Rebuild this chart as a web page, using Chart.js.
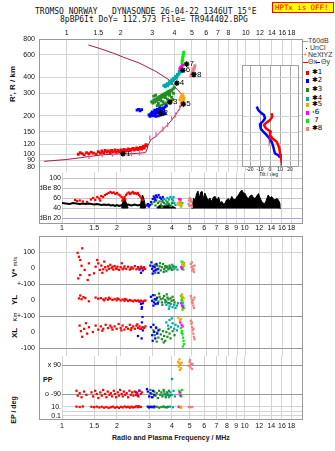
<!DOCTYPE html>
<html>
<head>
<meta charset="utf-8">
<title>Dynasonde ionogram</title>
<script src="https://cdn.jsdelivr.net/npm/chart.js@4.4.1/dist/chart.umd.min.js"></script>
<style>
  html, body { margin: 0; padding: 0; background: #fff; }
  body { position: relative; width: 335px; height: 451px; overflow: hidden;
         font-family: 'Liberation Sans', Arial, sans-serif; color: #111; }
  canvas, .t, .box, .mk { position: absolute; }
  .t { white-space: pre; line-height: 1; }
  .mono { font-family: 'DejaVu Sans Mono', monospace; font-size: 8px; }
  .rot { position: absolute; white-space: pre; line-height: 1; transform: translate(-50%, -50%) rotate(-90deg); font-weight: bold; }
  .box { border: 1px solid #999; box-sizing: border-box; pointer-events: none; }
  .lg { font-size: 7px; color: #333; }
  .star { font-family: 'DejaVu Sans', sans-serif; }
</style>
</head>
<body>
<div class="t mono" style="left:35px;top:8px">TROMSO NORWAY   DYNASONDE 26-04-22 1346UT 15°E</div>
<div class="t mono" style="left:60px;top:16px">8pBP6It DoY= 112.573 File= TR944402.BPG</div>
<div class="t mono" style="left:272px;top:2px;width:62px;height:11px;background:#ffff00;border:1px solid #f00;color:#f00;box-sizing:border-box;padding-left:2px;font-size:7.4px;line-height:9px;overflow:hidden">HPTx is OFF!</div>

<div class="rot" style="left:13px;top:84px;font-size:8px">R', R / km</div>
<div class="rot" style="left:15px;top:267px;font-size:8px">V* <span style="font-size:6px;font-weight:normal">m/s</span></div>
<div class="rot" style="left:15px;top:300px;font-size:8px">YL</div>
<div class="rot" style="left:15px;top:317px;font-size:6px;font-weight:normal">Km</div>
<div class="rot" style="left:15px;top:333px;font-size:8px">XL</div>
<div class="rot" style="left:13px;top:410px;font-size:7px">EP / deg</div>
<div class="t" style="left:43px;top:376px;font-size:7px;font-weight:bold">PP</div>
<div class="t" style="left:112px;top:434px;font-size:7px;font-weight:bold;color:#222">Radio and Plasma Frequency / MHz</div>
<div class="t" style="left:259px;top:172px;font-size:5px">Tilt / deg</div>

<div class="mk" style="left:303px;top:41px;width:5px;height:1px;background:#999"></div>
<div class="t lg" style="left:308px;top:37px">T60dB</div>
<div class="mk" style="left:306px;top:48px;width:1px;height:1px;background:#000"></div>
<div class="t lg" style="left:310px;top:44px">UnCl</div>
<div class="t lg" style="left:303px;top:51px;color:#e0609a">+</div>
<div class="t lg" style="left:308px;top:51px">NeXtYZ</div>
<div class="mk" style="left:303px;top:62px;width:5px;height:1px;background:#f00"></div>
<div class="t lg" style="left:308px;top:58px">Θx</div>
<div class="mk" style="left:316px;top:62px;width:4px;height:1px;background:#00f"></div>
<div class="t lg" style="left:321px;top:58px">Θy</div>
<div id="echoLegend"></div>

<canvas id="cTop"></canvas>
<canvas id="cTilt"></canvas>
<canvas id="cAmp"></canvas>
<canvas id="cVstar"></canvas>
<canvas id="cYL"></canvas>
<canvas id="cXL"></canvas>
<canvas id="cPP"></canvas>
<canvas id="cEP"></canvas>

<div class="box" style="left:39px;top:39px;width:264px;height:185px"></div>
<div class="box" style="left:39px;top:236px;width:264px;height:184px"></div>

<script>
// axis ticks and labels
const FREQ_TICKS = [1, 1.5, 2, 3, 4, 5, 6, 7, 8, 9, 10, 12, 14, 16, 18];
const FREQ_LABELS_TOP = ['1', '1.5', '2', '3', '4', '5', '6', '7', '8', '', '10', '12', '14', '16', '18'];
const FREQ_LABELS_BOTTOM = ['1', '1.5', '2', '3', '4', '5', '6', '7', '8', '9', '10', '12', '14', '16', '18'];
const HEIGHT_TICKS = [800, 600, 400, 300, 200, 150, 120, 100, 90, 80];
const TILT_HEIGHT_TICKS = [400, 300, 200, 150, 120, 100, 90];
const TILT_TICKS = [-20, -10, 0, 10, 20];
const DBE_TICKS = [100, 80, 60, 40, 20];
const DBE_LABELS = ['100', 'dBe 80', '60', '40', 'dBn 20'];
const VSTAR_TICKS = [100, 0];
const VSTAR_LABELS = ['100', '0'];
const YL_TICKS = [100, 0];
const YL_LABELS = ['+-100', '0'];
const XL_TICKS = [100, 0, -100];
const XL_LABELS = ['+-100', '0', '-100'];
const PP_TICKS = [90, -90];
const PP_LABELS = ['x 90', 'o -90'];
const EP_TICKS = [10, 1, 0.1];
const EP_LABELS = ['10.', '', '0.1'];

const ECHO_NAMES = ['✱1', '✱2', '✱3', '✱4', '✱5', '‹6', ' 7', '✱8'];

// real height profile and NeXtYZ points (MHz, km)
const PROFILE = [[0.748, 88], [1.0, 91], [1.2, 94], [1.33, 96], [1.58, 99], [1.8, 100], [2.05, 101], [2.3, 101],
  [2.55, 102], [2.75, 103], [2.8, 108], [2.85, 118], [2.95, 130], [3.15, 138], [3.44, 156], [3.66, 170],
  [3.85, 185], [4.05, 203], [4.27, 228], [4.43, 255], [4.47, 270], [4.43, 290], [4.3, 305], [4.15, 320],
  [3.74, 381], [3.16, 444], [2.56, 516], [2.08, 575], [1.83, 618], [1.55, 670], [1.32, 718]];
const NEXTYZ = [[1.33, 96], [1.58, 99], [1.8, 100], [2.05, 101], [2.3, 101], [2.55, 102], [2.91, 134], [3.15, 142],
  [3.44, 158], [3.66, 170], [3.85, 190], [4.05, 203], [4.27, 231], [4.43, 253]];

// tilt (deg, km)
const TILT_X = [[1.7, 210], [2.3, 198], [0, 186], [-4, 177], [-6, 170], [-4, 160], [0.7, 151], [0, 142], [2.3, 134],
  [6.7, 126], [8.3, 118], [9.3, 112], [10, 102], [10.7, 96]];
const TILT_Y = [[-13.3, 237], [-11.7, 223], [-9.3, 213], [-6, 204], [-5, 192], [-7.3, 181], [-10, 173], [-9.3, 160],
  [-6.7, 151], [-3.3, 142], [-0.7, 134], [1.7, 126], [3.3, 115], [4, 109], [5, 102], [8.3, 99], [10, 95]];

// echo label anchors
const LABEL_FREQ = [2.06, 3.34, 3.77, 4.12, 4.48, 4.45, 4.67, 5.13];
const LABEL_HEIGHT = [101, 210, 256, 361, 247, 455, 508, 422];
const LABEL_TEXT = ['1', '2', '3', '4', '5', '6', '7', '8'];

// virtual height R' (MHz, km)
const e1Height = [[1.16, 100], [1.19, 103], [1.22, 101], [1.25, 99], [1.29, 103], [1.33, 101], [1.37, 104], [1.41, 102],
  [1.46, 100], [1.5, 105], [1.54, 102], [1.57, 106], [1.61, 103], [1.64, 107], [1.68, 104], [1.71, 106], [1.75, 103],
  [1.78, 107], [1.82, 105], [1.86, 108], [1.89, 104], [1.93, 107], [1.97, 105], [2.01, 108], [2.05, 106], [2.09, 109],
  [2.13, 106], [2.17, 108], [2.21, 110], [2.25, 107], [2.29, 109], [2.34, 111], [2.38, 108], [2.42, 110], [2.46, 112],
  [2.5, 109], [2.54, 111], [2.58, 113], [2.62, 110], [2.65, 113], [2.68, 115], [2.71, 112], [2.74, 116], [2.77, 119], [2.79, 117]];
const e2Height = [[2.47, 222], [2.52, 225], [2.57, 219], [2.62, 224], [2.88, 203], [2.92, 198], [2.95, 208], [2.99, 201],
  [3.02, 212], [3.06, 205], [3.1, 215], [3.13, 208], [3.17, 218], [3.21, 212], [3.25, 222], [3.29, 216], [3.33, 226],
  [3.38, 221], [3.43, 230], [3.48, 226], [3.54, 235], [3.6, 240], [3.0, 215], [3.08, 200], [3.15, 198], [3.25, 200],
  [3.35, 203], [3.45, 205], [3.55, 208], [3.5, 215], [3.4, 210], [3.3, 230], [3.2, 225], [3.1, 222]];
const e3Height = [[2.98, 258], [3.03, 252], [3.07, 266], [3.11, 256], [3.15, 272], [3.19, 262], [3.23, 278], [3.27, 268],
  [3.31, 284], [3.35, 274], [3.39, 290], [3.43, 280], [3.47, 296], [3.51, 286], [3.55, 300], [3.59, 292], [3.63, 306],
  [3.67, 298], [3.71, 312], [3.76, 304], [3.81, 318], [3.86, 312], [3.92, 325], [3.98, 332], [3.06, 285], [3.14, 290],
  [3.36, 262], [3.56, 278], [3.75, 290], [3.3, 238], [3.4, 243], [3.5, 248], [3.6, 252], [3.7, 258], [3.8, 262],
  [3.9, 268], [3.45, 258], [3.65, 270], [3.85, 280], [3.25, 250], [3.2, 240], [3.95, 300]];
const e4Height = [[3.48, 345], [3.55, 338], [3.6, 348], [3.66, 344], [3.72, 355], [3.78, 362], [3.84, 368], [3.9, 376],
  [3.96, 384], [4.02, 392], [4.08, 402], [4.14, 410], [4.2, 420], [4.25, 430], [4.3, 440], [4.34, 450], [3.86, 358], [4.11, 395],
  [3.55, 350], [3.65, 358], [3.75, 370], [3.85, 382], [3.95, 395], [4.05, 408], [4.15, 422], [4.25, 446]];
const e5Height = [[4.28, 268], [4.33, 278], [4.38, 288], [4.43, 296], [4.47, 284], [4.52, 274], [4.4, 262], [4.35, 254],
  [4.45, 250], [4.5, 262]];
const e6Height = [[4.28, 468], [4.32, 476], [4.36, 484], [4.4, 492], [4.44, 500], [4.34, 470]];
const e7Height = [[4.4, 522], [4.41, 540], [4.43, 558], [4.45, 576], [4.47, 594], [4.49, 612], [4.5, 630], [4.44, 545]];
const e8Height = [[4.93, 412], [4.97, 424], [5.01, 436], [5.05, 448], [5.09, 460], [5.13, 472], [5.17, 484], [5.2, 494],
  [4.99, 418], [5.07, 442], [5.15, 466]];

// echo amplitude (MHz, dB)
const e1Amp = [[1.18, 56], [1.21, 54], [1.25, 55], [1.3, 53], [1.37, 52], [1.44, 57], [1.48, 60], [1.52, 56], [1.56, 62],
  [1.6, 59], [1.64, 64], [1.68, 62], [1.72, 66], [1.76, 68], [1.8, 70], [1.84, 72], [1.88, 70], [1.92, 71], [1.96, 68],
  [2.0, 70], [2.04, 67], [2.08, 65], [2.12, 62], [2.16, 59], [2.2, 62], [2.24, 66], [2.28, 69], [2.32, 71], [2.36, 68],
  [2.4, 70], [2.44, 72], [2.48, 69], [2.52, 70], [2.56, 68], [2.6, 70], [2.64, 66], [2.68, 63], [2.72, 60], [2.76, 56],
  [1.62, 55], [2.14, 55], [2.22, 57]];
const e2Amp = [[2.91, 45], [2.95, 48], [2.99, 43], [3.03, 46], [3.08, 52], [3.14, 58], [3.18, 63], [3.22, 60], [3.27, 65],
  [3.32, 62], [3.38, 66], [3.44, 61], [3.5, 58], [3.56, 62], [3.24, 56]];
const e3Amp = [[3.0, 44], [3.1, 48], [3.2, 52], [3.28, 55], [3.35, 50], [3.42, 53], [3.48, 47], [3.55, 54], [3.62, 50],
  [3.7, 46], [3.78, 52], [3.85, 48], [3.92, 44], [4.0, 50], [3.25, 45], [3.52, 42]];
const e4Amp = [[3.55, 52], [3.62, 58], [3.7, 55], [3.78, 60], [3.85, 57], [3.92, 62], [4.0, 58], [4.06, 55], [4.12, 50],
  [4.18, 46], [3.74, 48], [3.95, 45], [4.08, 62]];
const e5Amp = [[4.3, 50], [4.35, 46], [4.4, 53], [4.45, 48], [4.5, 44]];
const e6Amp = [[4.38, 58], [4.42, 55], [4.46, 57]];
const e7Amp = [[4.4, 48], [4.45, 52], [4.5, 46], [4.55, 50], [4.48, 43]];
const e8Amp = [[4.93, 48], [4.96, 55], [5.0, 60], [5.04, 58], [5.08, 52], [5.12, 46], [5.15, 42], [4.98, 44], [5.06, 45], [5.1, 56]];

// unclassified amplitude: thin trace and filled bursts (MHz, dB)
const UNCL_LINE = [[1.0, 50], [1.05, 49], [1.1, 48], [1.15, 50], [1.2, 49], [1.25, 48], [1.3, 49], [1.35, 48], [1.4, 49],
  [1.45, 48], [1.5, 47], [1.55, 48], [1.6, 47], [1.65, 46], [1.7, 47], [1.75, 46], [1.8, 47], [1.85, 45], [1.9, 46],
  [1.95, 44], [2.0, 46], [2.05, 44], [2.1, 45], [2.15, 47], [2.2, 46], [2.3, 47], [2.4, 45], [2.5, 47], [2.6, 45],
  [2.7, 47], [2.78, 44]];
const UNCL_AREA = [[2.12, 40], [2.16, 55], [2.2, 60], [2.24, 52], [2.28, 45], [2.3, 40], [2.5, null],
  [2.68, 40], [2.72, 58], [2.76, 66], [2.8, 60], [2.84, 50], [2.87, 40], [3.0, null],
  [3.3, 40], [3.4, 45], [3.6, 44], [3.8, 46], [4.0, 44], [4.2, 40], [4.6, null],
  [5.15, 38], [5.25, 60], [5.35, 55], [5.45, 68], [5.55, 74], [5.65, 60], [5.75, 72], [5.85, 73], [5.95, 58], [6.05, 70],
  [6.15, 64], [6.3, 55], [6.45, 60], [6.6, 53], [6.75, 62], [6.9, 63], [7.05, 55], [7.2, 62], [7.35, 50], [7.5, 53],
  [7.65, 48], [7.8, 49], [7.95, 56], [8.15, 59], [8.3, 54], [8.5, 63], [8.7, 57], [8.9, 57], [9.05, 62], [9.25, 66],
  [9.45, 72], [9.65, 76], [9.85, 70], [10.05, 69], [10.25, 62], [10.5, 59], [10.7, 64], [10.95, 66], [11.2, 60],
  [11.4, 59], [11.65, 64], [11.9, 69], [12.15, 60], [12.4, 53], [12.65, 50], [12.95, 49], [13.2, 58], [13.45, 66],
  [13.75, 60], [14.05, 63], [14.35, 58], [14.65, 56], [14.95, 59], [15.25, 57], [15.6, 49], [15.65, 38]];

// V* (MHz, m/s)
const e1Vstar = [[1.15, 95], [1.17, 70], [1.19, 50], [1.21, 14], [1.19, -44], [1.16, -65], [1.22, 123], [1.26, -12], [1.33, 29],
  [1.34, -44], [1.31, -75], [1.42, -33], [1.45, 8], [1.48, 50], [1.5, 29], [1.53, -12], [1.56, 15], [1.58, -30], [1.6, -8],
  [1.62, 40], [1.64, 5], [1.67, -15], [1.7, 10], [1.72, -5], [1.75, 20], [1.78, 0], [1.82, -10], [1.85, 12], [1.88, -3],
  [1.92, 8], [1.96, -12], [2.0, 5], [2.03, 30], [2.05, -8], [2.1, 10], [2.15, -5], [2.2, 8], [2.25, -10], [2.3, 5],
  [2.35, -3], [2.4, 12], [2.45, -8], [2.5, 3], [2.55, -5], [2.6, 8], [2.65, -2], [2.7, 5], [2.74, -6], [1.8, 8],
  [1.9, -6], [2.08, -2], [2.28, -4]];
const e2Vstar = [[2.5, 5], [2.55, -10], [2.6, -30], [2.62, 0], [2.66, -15], [2.93, 15], [2.97, 35], [3.0, -5], [3.03, 10],
  [3.06, -20], [3.1, 5], [3.13, -15], [3.17, 25], [3.21, -8], [3.25, -30], [3.02, -35]];
const e3Vstar = [[3.1, 20], [3.15, -10], [3.2, 15], [3.25, -5], [3.3, 10], [3.35, -15], [3.4, 5], [3.45, 25], [3.5, -8],
  [3.55, 12], [3.6, -20], [3.65, 5], [3.7, -5], [3.75, 15], [3.8, 0], [3.9, -10], [3.95, 10], [3.12, -30], [3.32, 30], [3.48, -25]];
const e4Vstar = [[3.55, 0], [3.62, 10], [3.7, -8], [3.78, 5], [3.85, -12], [3.92, 8], [4.0, -3], [4.08, 6], [4.15, -10], [3.88, 20]];
const e5Vstar = [[4.42, 30], [4.47, 15], [4.5, 25]];
const e6Vstar = [[4.36, 5], [4.4, -5]];
const e7Vstar = [[4.38, 40], [4.42, 20], [4.45, 5], [4.48, -10], [4.52, 30], [4.44, 35], [4.5, 12]];
const e8Vstar = [[4.93, 25], [4.97, 5], [5.01, -15], [5.05, 10], [5.09, -5], [5.13, -25], [5.17, 15], [5.0, 35], [5.1, -10]];

// YL (MHz, km)
const e1YL = [[1.17, 10], [1.19, 28], [1.21, 5], [1.24, 18], [1.27, 12], [1.33, -8], [1.45, 15], [1.5, 8], [1.55, 12], [1.6, 4],
  [1.65, 10], [1.7, 2], [1.75, 8], [1.8, 0], [1.85, 6], [1.9, -2], [1.95, 5], [2.0, -3], [2.05, 3], [2.1, -5], [2.15, 2],
  [2.2, -6], [2.25, 0], [2.3, -4], [2.35, -8], [2.4, -2], [2.45, -6], [2.5, -3], [2.55, -8], [2.6, -4], [2.65, -10],
  [2.7, -6], [2.75, -3], [1.62, -2], [1.72, 14], [1.92, 10], [2.12, 6]];
const e2YL = [[2.55, -10], [2.6, -25], [2.63, -45], [2.66, -20], [2.62, -55], [2.95, 20], [3.0, -5], [3.03, 30], [3.07, -15],
  [3.1, 5], [3.13, -25], [3.18, 10], [3.22, -20], [3.05, -35]];
const e3YL = [[3.1, 30], [3.15, 0], [3.2, 15], [3.25, -10], [3.3, 20], [3.35, 5], [3.4, -15], [3.45, 10], [3.5, 25], [3.55, 0],
  [3.6, -10], [3.65, 15], [3.7, 5], [3.75, -20], [3.8, 10], [3.85, -5], [3.9, 20], [3.95, 0], [4.0, -15], [3.28, 40],
  [3.62, 35], [3.42, -30], [3.22, -25]];
const e4YL = [[3.55, -15], [3.6, -30], [3.68, -20], [3.75, -40], [3.82, -25], [3.9, -45], [3.98, -30], [4.05, -50], [4.12, -35],
  [4.18, -20], [3.72, -55]];
const e5YL = [[4.4, 35], [4.45, 20], [4.5, 10]];
const e6YL = [[4.35, -20], [4.4, -35], [4.45, -45]];
const e7YL = [[4.35, 25], [4.4, 10], [4.42, -5], [4.45, -20], [4.48, -35], [4.5, -50], [4.43, -60], [4.38, 0]];
const e8YL = [[4.93, 25], [4.97, 10], [5.01, -5], [5.05, -20], [5.09, -35], [5.13, -50], [5.17, 15], [5.0, -15], [5.1, 0]];

// XL (MHz, km)
const e1XL = [[1.18, 40], [1.2, 5], [1.22, -30], [1.25, 20], [1.28, 55], [1.3, -10], [1.33, 30], [1.4, 0], [1.45, 40], [1.5, 15],
  [1.55, 35], [1.6, 20], [1.65, 45], [1.7, 25], [1.75, 40], [1.8, 15], [1.85, 35], [1.9, 20], [1.95, 50], [2.0, 25],
  [2.05, 40], [2.1, 15], [2.15, 30], [2.2, 20], [2.25, 45], [2.3, 25], [2.35, 35], [2.4, 20], [2.45, 40], [2.5, 25],
  [2.55, 35], [2.6, 20], [2.65, 30], [2.7, 25], [2.75, 35], [1.58, 8], [1.78, 28], [2.02, 10], [2.28, 12], [2.48, 48]];
const e2XL = [[2.5, -25], [2.58, 20], [2.63, 60], [2.65, 95], [2.66, 10], [2.62, -40], [2.95, 30], [3.0, -20], [3.05, 45],
  [3.08, 0], [3.12, -40], [3.16, 25], [3.2, -10], [3.25, 10], [3.02, -55]];
const e3XL = [[3.05, 10], [3.1, -20], [3.15, 30], [3.2, -5], [3.25, -35], [3.3, 15], [3.35, -15], [3.4, -45], [3.45, 5],
  [3.5, -25], [3.55, -55], [3.6, 0], [3.65, -30], [3.7, 20], [3.75, -10], [3.8, -40], [3.9, 5], [4.0, -20], [3.18, -60], [3.48, -65]];
const e4XL = [[3.6, 60], [3.68, 40], [3.75, 75], [3.82, 30], [3.9, 55], [3.98, 20], [4.05, 45], [4.12, 10], [4.18, 35], [3.86, 85]];
const e5XL = [[4.2, 90], [4.28, 75], [4.35, 80]];
const e6XL = [[4.3, 60], [4.38, 45], [4.44, 35]];
const e7XL = [[4.35, 25], [4.4, 5], [4.43, -15], [4.46, -35], [4.49, -55], [4.52, -75], [4.45, -90], [4.38, -5]];
const e8XL = [[4.93, 70], [4.97, 50], [5.01, 30], [5.05, 10], [5.09, -10], [5.13, -30], [5.17, -45], [5.0, 60], [5.1, 20]];

// PP polarization (MHz, deg)
const e1PP = [[1.2, -70], [1.22, -100], [1.25, -85], [1.28, -110], [1.32, -75], [1.36, -95], [1.45, -80], [1.48, -105],
  [1.52, -70], [1.55, -90], [1.58, -115], [1.62, -80], [1.65, -100], [1.68, -65], [1.72, -90], [1.75, -110], [1.78, -75],
  [1.82, -95], [1.85, -85], [1.88, -105], [1.92, -70], [1.95, -90], [1.98, -110], [2.02, -80], [2.05, -100], [2.08, -65],
  [2.12, -90], [2.15, -105], [2.18, -75], [2.22, -95], [2.26, -85], [2.3, -110], [2.34, -70], [2.38, -95], [2.42, -80],
  [2.46, -100], [2.5, -75], [2.54, -95], [2.58, -85], [2.62, -105], [2.66, -70], [2.7, -90], [2.74, -80]];
const e2PP = [[2.55, -80], [2.6, -100], [2.65, -70], [2.95, -75], [3.0, -105], [3.05, -85], [3.1, -110], [3.15, -70],
  [3.2, -95], [2.92, -60]];
const e3PP = [[3.05, -65], [3.1, -90], [3.15, -110], [3.2, -75], [3.25, -100], [3.3, -85], [3.35, -115], [3.4, -70],
  [3.45, -95], [3.5, -80], [3.55, -105], [3.6, -65], [3.65, -90], [3.7, -110], [3.75, -80], [3.8, -95], [3.85, -70], [3.9, -100]];
const e4PP = [[3.55, -95], [3.62, -75], [3.7, -100], [3.78, -85], [3.85, -110], [3.92, -80], [4.0, -95], [4.08, -70],
  [4.15, -105], [4.0, 3]];
const e5PP = [[4.32, 110], [4.36, 80], [4.4, 125], [4.44, 95], [4.48, 70], [4.52, 105], [4.42, 60], [4.38, 100]];
const e6PP = [[4.4, -80], [4.45, -100]];
const e7PP = [[4.38, -70], [4.42, -95], [4.46, -80], [4.5, -105], [4.53, -65]];
const e8PP = [[4.95, 85], [5.0, 110], [5.05, 75], [5.1, 100], [5.15, 65], [5.02, 120], [5.08, 90], [5.18, 95]];

// EP (MHz, deg)
const e1EP = [[1.2, 12], [1.25, 10], [1.3, 13], [1.45, 11], [1.5, 9], [1.55, 12], [1.6, 8], [1.65, 11], [1.7, 7], [1.75, 10],
  [1.8, 6], [1.85, 9], [1.9, 12], [1.95, 7], [2.0, 10], [2.05, 6], [2.1, 11], [2.15, 8], [2.2, 13], [2.25, 9], [2.3, 11],
  [2.35, 7], [2.4, 12], [2.45, 8], [2.5, 10], [2.55, 14], [2.6, 9], [2.65, 12], [2.7, 10]];
const e2EP = [[2.62, 14], [2.95, 12], [3.0, 8], [3.05, 11], [3.12, 9], [3.2, 13]];
const e3EP = [[3.0, 9], [3.1, 12], [3.2, 8], [3.3, 11], [3.4, 7], [3.5, 10], [3.6, 13], [3.7, 9], [3.8, 11]];
const e4EP = [[3.6, 10], [3.75, 8], [3.9, 12], [4.05, 9]];
const e5EP = [[4.45, 11], [4.5, 9]];
const e6EP = [[4.38, 10]];
const e7EP = [[4.35, 12], [4.42, 10], [4.48, 8]];
const e8EP = [[4.95, 10], [5.02, 11], [5.1, 9], [5.16, 10]];

const HEIGHT_SETS = [e1Height, e2Height, e3Height, e4Height, e5Height, e6Height, e7Height, e8Height];
const AMP_SETS = [e1Amp, e2Amp, e3Amp, e4Amp, e5Amp, e6Amp, e7Amp, e8Amp];
const VSTAR_SETS = [e1Vstar, e2Vstar, e3Vstar, e4Vstar, e5Vstar, e6Vstar, e7Vstar, e8Vstar];
const YL_SETS = [e1YL, e2YL, e3YL, e4YL, e5YL, e6YL, e7YL, e8YL];
const XL_SETS = [e1XL, e2XL, e3XL, e4XL, e5XL, e6XL, e7XL, e8XL];
const PP_SETS = [e1PP, e2PP, e3PP, e4PP, e5PP, e6PP, e7PP, e8PP];
const EP_SETS = [e1EP, e2EP, e3EP, e4EP, e5EP, e6EP, e7EP, e8EP];

// ---- styling ----
const ECHO_COLORS = ['#ff0000', '#0000ff', '#228b22', '#00a8a8', '#ffa500', '#ff00ff', '#00ee00', '#f08080'];
const GRID = '#d4d4d4';
const GRID_DARK = '#999999';
const NONE = 'rgba(0,0,0,0)';
const F_MIN = 0.748, F_MAX = 20.6;

Chart.defaults.font.family = "'Liberation Sans', Arial, sans-serif";
Chart.defaults.font.size = 7;
Chart.defaults.color = '#111';

// legend rows for the echo classes
const legendTops = [73, 81, 90, 99, 105, 113, 121, 129];
const legendBox = document.getElementById('echoLegend');
ECHO_NAMES.forEach((name, i) => {
  legendBox.insertAdjacentHTML('beforeend',
    `<div class="mk" style="left:306px;top:${legendTops[i] - 2}px;width:3px;height:4px;background:${ECHO_COLORS[i]}"></div>` +
    `<div class="t lg star" style="left:312px;top:${legendTops[i] - 4}px;font-size:7px;color:#000">${name}</div>`);
});

// fixed axis box sizes so the plot areas line up across charts
function fixSize(dim, size) {
  return s => {
    s[dim] = size;
    s.paddingLeft = s.paddingRight = s.paddingTop = s.paddingBottom = 0;
  };
}

function gridBy(map, fallback) {
  return ctx => (ctx.tick && map[ctx.tick.value] !== undefined) ? map[ctx.tick.value] : fallback;
}

function freqAxis(o) {
  return {
    type: 'logarithmic',
    position: o.position || 'bottom',
    min: o.min, max: F_MAX,
    afterBuildTicks: s => { s.ticks = FREQ_TICKS.map(v => ({value: v})); },
    afterFit: fixSize('height', o.height || 0),
    border: {display: false},
    grid: {color: GRID, drawTicks: false},
    ticks: {
      display: !!o.labels, autoSkip: false, maxRotation: 0, minRotation: 0, padding: o.pad || 0,
      callback: (v, i) => o.labels ? o.labels[i] : ''
    }
  };
}

function valueAxis(o) {
  return {
    type: o.type || 'linear',
    position: 'left',
    min: o.min, max: o.max,
    afterBuildTicks: s => { s.ticks = o.ticks.map(v => ({value: v})); },
    afterFit: fixSize('width', o.width),
    border: {display: false},
    grid: {color: o.grid || GRID, drawTicks: false},
    ticks: {
      display: o.labels !== undefined, autoSkip: false, padding: o.pad === undefined ? 4 : o.pad,
      callback: (v, i) => o.labels ? o.labels[i] : ''
    }
  };
}

function echoSets(sets, radius) {
  return sets.map((pts, i) => ({
    label: ECHO_NAMES[i], data: pts, pointStyle: 'rect', pointRadius: radius,
    backgroundColor: ECHO_COLORS[i], borderWidth: 0, showLine: false
  }));
}

function baseOptions(padding, x, y, plugins) {
  return {
    responsive: false, animation: false, events: [],
    layout: {padding},
    plugins: Object.assign({legend: {display: false}, tooltip: {enabled: false}}, plugins || {}),
    scales: {x, y}
  };
}

function makeChart(id, box, cfg) {
  const c = document.getElementById(id);
  c.width = box.w; c.height = box.h;
  Object.assign(c.style, {left: box.x + 'px', top: box.y + 'px', width: box.w + 'px', height: box.h + 'px'});
  return new Chart(c, cfg);
}

const echoText = {
  id: 'echoText',
  afterDatasetsDraw(chart, args, opts) {
    if (!opts.items) return;
    const ctx = chart.ctx, xs = chart.scales.x, ys = chart.scales.y;
    ctx.save();
    ctx.font = opts.font;
    ctx.fillStyle = opts.color;
    ctx.textBaseline = 'middle';
    ctx.textAlign = 'left';
    opts.items.forEach(it => ctx.fillText(it.text, xs.getPixelForValue(it.f) + opts.dx, ys.getPixelForValue(it.h)));
    ctx.restore();
  }
};

const areaBox = {
  id: 'areaBox',
  beforeDraw(chart, args, opts) {
    if (!opts.fill) return;
    const a = chart.chartArea, ctx = chart.ctx;
    ctx.save(); ctx.fillStyle = opts.fill; ctx.fillRect(a.left, a.top, a.width, a.height); ctx.restore();
  },
  afterDraw(chart, args, opts) {
    if (!opts.stroke) return;
    const a = chart.chartArea, ctx = chart.ctx;
    ctx.save(); ctx.strokeStyle = opts.stroke; ctx.lineWidth = 1;
    ctx.strokeRect(a.left + 0.5, a.top + 0.5, a.width - 1, a.height - 1); ctx.restore();
  }
};
Chart.register(echoText, areaBox);

// ---- R' / R ionogram ----
makeChart('cTop', {x: 0, y: 0, w: 335, h: 177}, {
  type: 'scatter',
  data: {datasets: [
    {data: LABEL_FREQ.map((f, i) => [f, LABEL_HEIGHT[i]]), pointStyle: 'star', pointRadius: 2.8,
      borderColor: '#000', borderWidth: 1.3, backgroundColor: '#000'},
    ...echoSets(HEIGHT_SETS, 2),
    {label: 'NeXtYZ', data: NEXTYZ, pointStyle: 'line', pointRotation: 90, pointRadius: 2.5,
      borderColor: '#e0609a', borderWidth: 1.3},
    {label: 'profile', data: PROFILE, showLine: true, pointRadius: 0, borderColor: '#a8184e', borderWidth: 1, fill: false}
  ]},
  options: baseOptions({left: 0, right: 33, top: 22, bottom: 5},
    freqAxis({position: 'top', min: F_MIN, labels: FREQ_LABELS_TOP, height: 17, pad: 2}),
    valueAxis({type: 'logarithmic', min: 73, max: 800, ticks: HEIGHT_TICKS, labels: HEIGHT_TICKS.map(String), width: 39}),
    {echoText: {items: LABEL_TEXT.map((t, i) => ({text: t, f: LABEL_FREQ[i], h: LABEL_HEIGHT[i]})),
      font: "8px 'Liberation Sans', Arial, sans-serif", color: '#000', dx: 3}})
});

// ---- tilt inset ----
makeChart('cTilt', {x: 236, y: 60, w: 72, h: 115}, {
  type: 'scatter',
  data: {datasets: [
    {label: 'Θx', data: TILT_X, showLine: true, pointRadius: 0, borderColor: '#ff0000', borderWidth: 2.5},
    {label: 'Θy', data: TILT_Y, showLine: true, pointRadius: 0, borderColor: '#0000ff', borderWidth: 2.5}
  ]},
  options: baseOptions({left: 6, right: 9, top: 5, bottom: 0},
    {
      type: 'linear', position: 'bottom', min: -28, max: 29,
      afterBuildTicks: s => { s.ticks = TILT_TICKS.map(v => ({value: v})); },
      afterFit: fixSize('height', 8),
      border: {display: false},
      grid: {color: '#aaaaaa', drawTicks: false},
      ticks: {autoSkip: false, maxRotation: 0, padding: 0, font: {size: 5}, callback: (v, i) => String(TILT_TICKS[i])}
    },
    valueAxis({type: 'logarithmic', min: 80, max: 501, ticks: TILT_HEIGHT_TICKS, width: 0, pad: 0}),
    {areaBox: {fill: '#ffffff', stroke: '#a0a0a0'}})
});

// ---- amplitude panel ----
makeChart('cAmp', {x: 0, y: 167, w: 335, h: 67}, {
  type: 'scatter',
  data: {datasets: [
    ...echoSets(AMP_SETS, 1.6),
    {label: 'UnCl', data: UNCL_LINE, showLine: true, pointRadius: 0, borderColor: '#000', borderWidth: 2},
    {label: 'UnCl burst', data: UNCL_AREA, showLine: true, spanGaps: false, pointRadius: 0, borderColor: '#000',
      borderWidth: 1, backgroundColor: '#000', fill: {value: 39}}
  ]},
  options: baseOptions({left: 0, right: 33, top: 5, bottom: 0},
    freqAxis({min: 1, labels: FREQ_LABELS_BOTTOM, height: 11, pad: 1}),
    valueAxis({min: 10, max: 112, ticks: DBE_TICKS, labels: DBE_LABELS, width: 62, pad: 1,
      grid: gridBy({20: '#a8a8e8'}, '#c4c4c4')}))
});

// ---- V*, YL, XL, PP, EP panels ----
makeChart('cVstar', {x: 0, y: 231, w: 335, h: 58}, {
  type: 'scatter',
  data: {datasets: echoSets(VSTAR_SETS, 1.6)},
  options: baseOptions({left: 0, right: 33, top: 5, bottom: 5},
    freqAxis({min: F_MIN}),
    valueAxis({min: -100, max: 200, ticks: VSTAR_TICKS, labels: VSTAR_LABELS, width: 39,
      grid: gridBy({100: GRID, 0: NONE}, GRID)}))
});

makeChart('cYL', {x: 0, y: 279, w: 335, h: 42}, {
  type: 'scatter',
  data: {datasets: echoSets(YL_SETS, 1.6)},
  options: baseOptions({left: 0, right: 33, top: 5, bottom: 5},
    freqAxis({min: F_MIN}),
    valueAxis({min: -100, max: 100, ticks: YL_TICKS, labels: YL_LABELS, width: 39,
      grid: gridBy({100: GRID_DARK, 0: NONE}, GRID)}))
});

makeChart('cXL', {x: 0, y: 311, w: 335, h: 50}, {
  type: 'scatter',
  data: {datasets: echoSets(XL_SETS, 1.6)},
  options: baseOptions({left: 0, right: 33, top: 5, bottom: 5},
    freqAxis({min: F_MIN}),
    valueAxis({min: -150, max: 100, ticks: XL_TICKS, labels: XL_LABELS, width: 39,
      grid: gridBy({100: GRID_DARK, 0: NONE, '-100': GRID_DARK}, GRID)}))
});

makeChart('cPP', {x: 0, y: 351, w: 335, h: 54}, {
  type: 'scatter',
  data: {datasets: echoSets(PP_SETS, 1.6)},
  options: baseOptions({left: 0, right: 33, top: 5, bottom: 5},
    freqAxis({min: 1}),
    valueAxis({min: -127.2, max: 145.9, ticks: PP_TICKS, labels: PP_LABELS, width: 62, pad: 1, grid: GRID_DARK}))
});

makeChart('cEP', {x: 0, y: 395, w: 335, h: 36}, {
  type: 'scatter',
  data: {datasets: echoSets(EP_SETS, 1.6)},
  options: baseOptions({left: 0, right: 33, top: 5, bottom: 0},
    freqAxis({min: 1, labels: FREQ_LABELS_BOTTOM, height: 12, pad: 3}),
    valueAxis({type: 'logarithmic', min: 0.0215, max: 359, ticks: EP_TICKS, labels: EP_LABELS, width: 62, pad: 1}))
});
</script>
</body>
</html>
